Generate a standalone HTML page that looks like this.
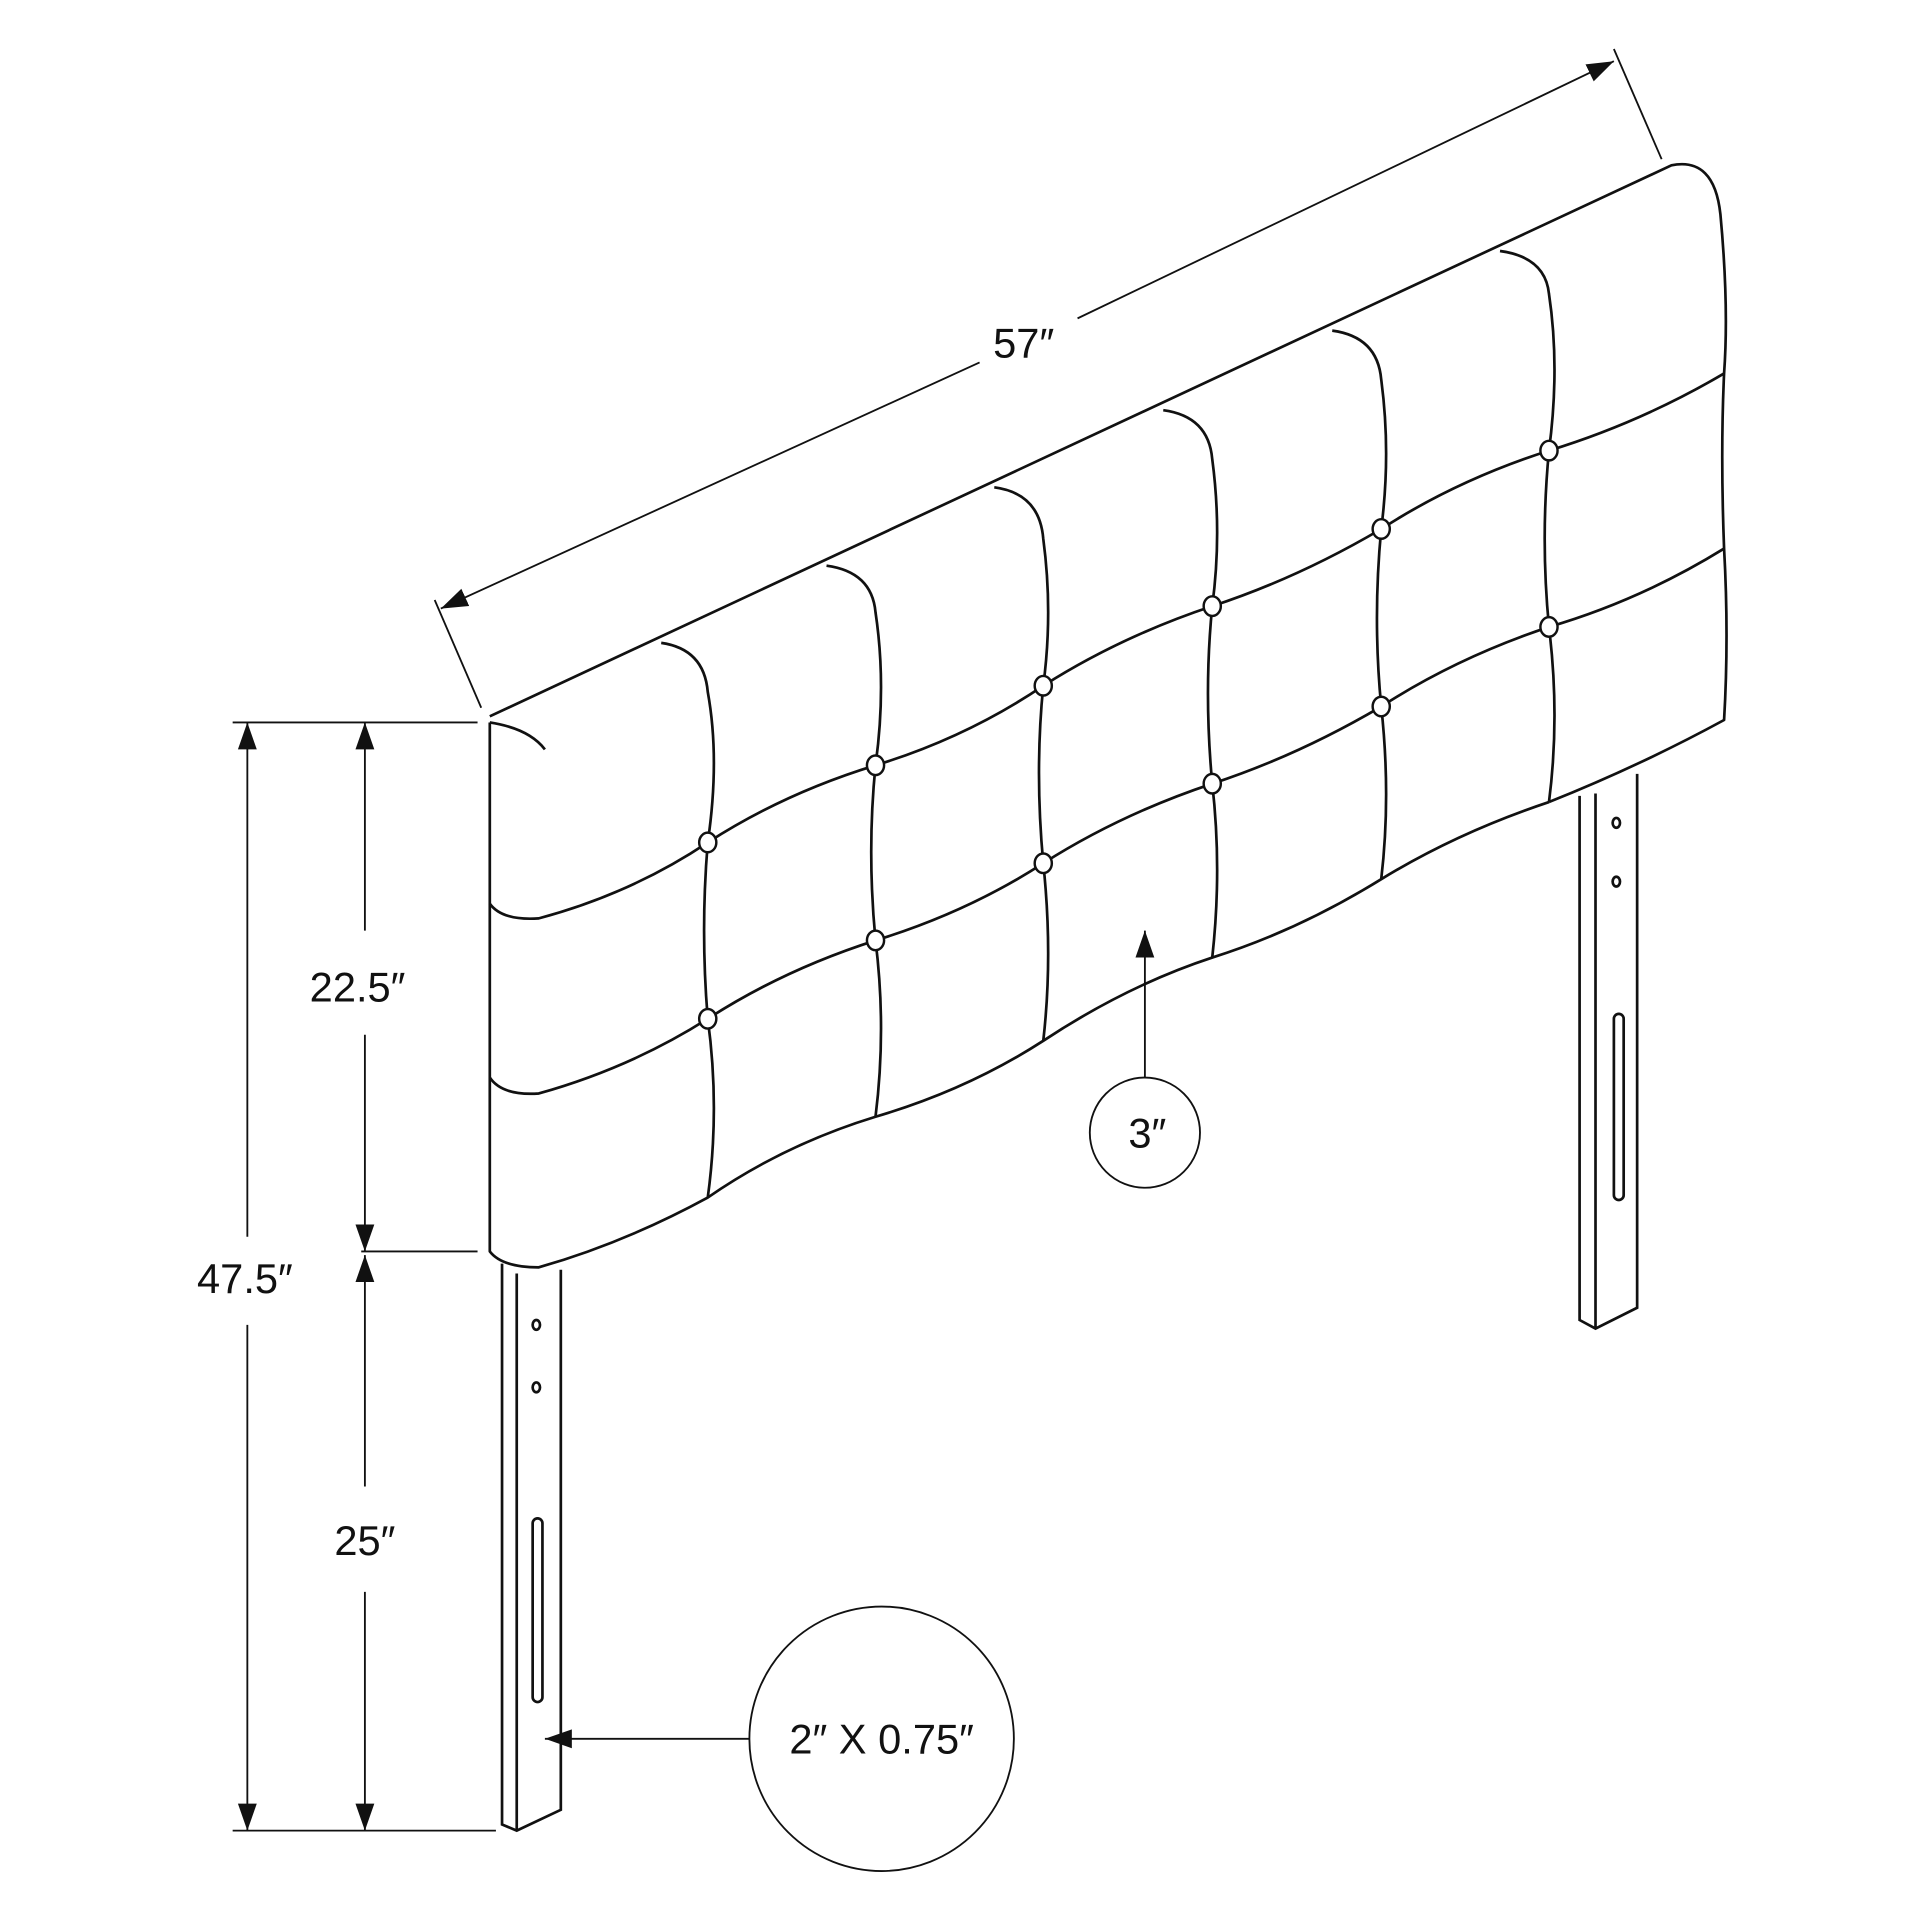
<!DOCTYPE html>
<html><head><meta charset="utf-8"><style>
html,body{margin:0;padding:0;background:#fff;}
svg{display:block;}
text{font-family:"Liberation Sans",sans-serif;font-size:34px;fill:#111;}
</style></head><body>
<svg width="1920" height="1920" viewBox="0 0 1568 1568" xmlns="http://www.w3.org/2000/svg">
<defs>
<marker id="b" viewBox="0 0 10 10" refX="10" refY="5" markerWidth="22" markerHeight="22" orient="auto-start-reverse" markerUnits="userSpaceOnUse"><path d="M0,1.5 L10,5 L0,8.5 z" fill="#111"/></marker>
</defs>
<g fill="none" stroke="#111" stroke-width="2.2" stroke-linejoin="round">
<path d="M400,585 L1365,135 Q1400,128 1405,175 Q1412,250 1408,305 Q1405,370 1408,448 Q1412,520 1408,588 Q1340,625 1265,655"/>
<path d="M400,590 L400,1022 Q410,1035 440,1035 Q510,1015 578,978 Q640,935 715,912 Q790,890 852,850 Q920,805 990,782 Q1060,760 1128,718 Q1190,680 1265,655"/>
<path d="M400,590 Q432,595 445,612"/>
<path d="M540,525 Q575,530 578,565 Q588,620 578,688 Q572,760 578,832 Q588,905 578,978"/>
<path d="M675,462 Q712,467 715,500 Q724,560 715,625 Q708,695 715,768 Q724,840 715,912"/>
<path d="M812,398 Q849,403 852,440 Q860,500 852,560 Q845,630 852,705 Q860,780 852,850"/>
<path d="M950,335 Q987,340 990,375 Q998,435 990,495 Q983,565 990,640 Q998,710 990,782"/>
<path d="M1088,270 Q1125,275 1128,310 Q1136,370 1128,432 Q1121,505 1128,577 Q1136,650 1128,718"/>
<path d="M1225,205 Q1262,210 1265,240 Q1274,300 1265,368 Q1258,440 1265,512 Q1274,585 1265,655"/>
<path d="M400,738 Q410,752 440,750 Q515,730 578,688 Q640,648 715,625 Q790,602 852,560 Q915,520 990,495 Q1060,472 1128,432 Q1190,392 1265,368 Q1340,345 1408,305"/>
<path d="M400,880 Q410,895 440,893 Q515,872 578,832 Q640,792 715,768 Q790,745 852,705 Q915,665 990,640 Q1060,617 1128,577 Q1190,537 1265,512 Q1340,490 1408,448"/>
</g>
<g fill="#fff" stroke="#111" stroke-width="2">
<ellipse cx="578" cy="688" rx="7" ry="8"/><ellipse cx="715" cy="625" rx="7" ry="8"/><ellipse cx="852" cy="560" rx="7" ry="8"/><ellipse cx="990" cy="495" rx="7" ry="8"/><ellipse cx="1128" cy="432" rx="7" ry="8"/><ellipse cx="1265" cy="368" rx="7" ry="8"/>
<ellipse cx="578" cy="832" rx="7" ry="8"/><ellipse cx="715" cy="768" rx="7" ry="8"/><ellipse cx="852" cy="705" rx="7" ry="8"/><ellipse cx="990" cy="640" rx="7" ry="8"/><ellipse cx="1128" cy="577" rx="7" ry="8"/><ellipse cx="1265" cy="512" rx="7" ry="8"/>
</g>
<g fill="none" stroke="#111" stroke-width="2.2">
<path d="M410,1032 L410,1490 L422,1495 L458,1478 L458,1037"/>
<path d="M422,1040 L422,1495"/>
<ellipse cx="438" cy="1082" rx="3" ry="4"/><ellipse cx="438" cy="1133" rx="3" ry="4"/>
<rect x="435" y="1240" width="8" height="150" rx="4"/>
<path d="M1290,650 L1290,1078 L1303,1085 L1337,1068 L1337,632"/>
<path d="M1303,648 L1303,1085"/>
<ellipse cx="1320" cy="672" rx="3" ry="4"/><ellipse cx="1320" cy="720" rx="3" ry="4"/>
<rect x="1318" y="828" width="8" height="152" rx="4"/>
</g>
<g fill="none" stroke="#111" stroke-width="1.5">
<path d="M355,490 L393,578"/><path d="M1318,40 L1357,130"/>
<path d="M800,296 L360,497" marker-end="url(#b)"/>
<path d="M880,260 L1318,50" marker-end="url(#b)"/>
<path d="M190,590 L390,590"/><path d="M295,1022 L390,1022"/><path d="M190,1495 L405,1495"/>
<path d="M202,1010 L202,590" marker-end="url(#b)"/>
<path d="M202,1082 L202,1495" marker-end="url(#b)"/>
<path d="M298,760 L298,590" marker-end="url(#b)"/>
<path d="M298,845 L298,1022" marker-end="url(#b)"/>
<path d="M298,1214 L298,1025" marker-end="url(#b)"/>
<path d="M298,1300 L298,1495" marker-end="url(#b)"/>
<circle cx="935" cy="925" r="45"/>
<path d="M935,880 L935,760" marker-end="url(#b)"/>
<circle cx="720" cy="1420" r="108"/>
<path d="M612,1420 L445,1420" marker-end="url(#b)"/>
</g>
<text x="836" y="292" text-anchor="middle">57″</text>
<text x="292" y="818" text-anchor="middle">22.5″</text>
<text x="200" y="1056" text-anchor="middle">47.5″</text>
<text x="298" y="1270" text-anchor="middle">25″</text>
<text x="937" y="937" text-anchor="middle">3″</text>
<text x="720" y="1432" text-anchor="middle">2″ X 0.75″</text>
</svg>
</body></html>
